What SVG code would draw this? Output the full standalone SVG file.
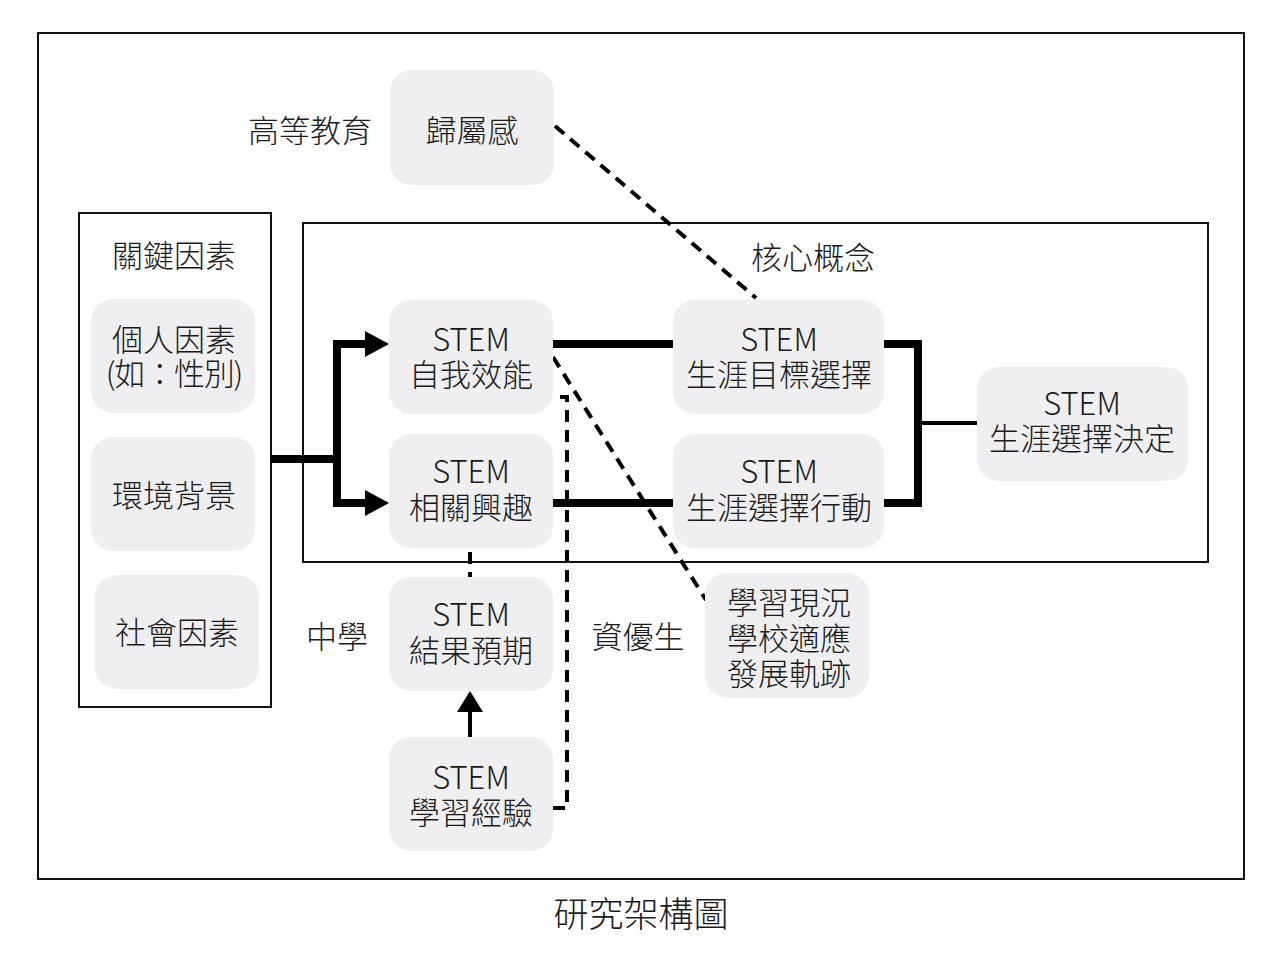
<svg xmlns="http://www.w3.org/2000/svg" width="1282" height="958" viewBox="0 0 1282 958">
<defs>
<style>
.frame{fill:none;stroke:#111;stroke-width:2}
.node{fill:#efeff1;stroke:none}
.t{font-family:"Noto Sans CJK TC","Noto Sans",sans-serif;font-size:31px;font-weight:300;fill:#1a1a1a;text-anchor:middle;dominant-baseline:central}
.thick{fill:none;stroke:#000;stroke-width:8}
.mid{fill:none;stroke:#000;stroke-width:4}
.dash{fill:none;stroke:#000;stroke-width:4;stroke-dasharray:12 8}
</style>
</defs>
<rect width="1282" height="958" fill="#fff"/>
<rect class="frame" x="38" y="33" width="1206" height="846"/>
<rect class="frame" x="79" y="213" width="192" height="494"/>
<rect class="frame" x="303" y="223" width="905" height="339"/>

<g id="labels">
<text class="t" x="310" y="128">高等教育</text>
<text class="t" x="174" y="253">關鍵因素</text>
<text class="t" x="813" y="255">核心概念</text>
<text class="t" x="337" y="634">中學</text>
<text class="t" x="638" y="634">資優生</text>
<text class="t" x="641" y="911" style="font-size:35px">研究架構圖</text>
</g>

<g id="connectors">
<path class="thick" d="M271,459 H337 M337,459 V344 H366 M337,459 V503 H366"/>
<path d="M365,331 L389,344 L365,357 Z" fill="#000"/>
<path d="M365,490 L389,503 L365,516 Z" fill="#000"/>
<path class="thick" d="M553,344 H673"/>
<path class="thick" d="M553,503 H673"/>
<path class="thick" d="M884,344 H918 V503 H884"/>
<path class="mid" d="M918,423 H977"/>
<path class="dash" d="M555,126 L756,298"/>
<path class="dash" d="M553,357 L706,600"/>
<path class="dash" d="M553,808 H567 V397 H559"/>
<path class="dash" d="M470,552 V577"/>
<path class="mid" d="M470,737 V710"/>
<path d="M457,712 L470,691 L483,712 Z" fill="#000"/>
</g>

<g id="n-belong"><rect class="node" x="390" y="70" width="164" height="115" rx="22"/><text class="t" x="472" y="128">歸屬感</text></g>
<g id="n-personal"><rect class="node" x="91" y="299" width="164" height="114" rx="22"/><text class="t" x="174" y="337">個人因素</text><text class="t" x="174" y="371" style="letter-spacing:-1.2px">(如：性別)</text></g>
<g id="n-env"><rect class="node" x="91" y="437" width="164" height="114" rx="22"/><text class="t" x="174" y="493">環境背景</text></g>
<g id="n-social"><rect class="node" x="95" y="575" width="164" height="114" rx="22"/><text class="t" x="177" y="630">社會因素</text></g>
<g id="n-self"><rect class="node" x="389" y="300" width="164" height="114" rx="22"/><text class="t" x="471" y="337">STEM</text><text class="t" x="471" y="372">自我效能</text></g>
<g id="n-interest"><rect class="node" x="389" y="434" width="164" height="114" rx="22"/><text class="t" x="471" y="469">STEM</text><text class="t" x="471" y="505">相關興趣</text></g>
<g id="n-goal"><rect class="node" x="673" y="300" width="211" height="114" rx="22"/><text class="t" x="779" y="337">STEM</text><text class="t" x="779" y="372">生涯目標選擇</text></g>
<g id="n-action"><rect class="node" x="673" y="434" width="211" height="114" rx="22"/><text class="t" x="779" y="469">STEM</text><text class="t" x="779" y="505">生涯選擇行動</text></g>
<g id="n-decision"><rect class="node" x="977" y="367" width="211" height="114" rx="22"/><text class="t" x="1082" y="401">STEM</text><text class="t" x="1082" y="436">生涯選擇決定</text></g>
<g id="n-outcome"><rect class="node" x="389" y="577" width="164" height="114" rx="22"/><text class="t" x="471" y="612">STEM</text><text class="t" x="471" y="648">結果預期</text></g>
<g id="n-status"><rect class="node" x="705" y="573" width="164" height="125" rx="22"/><text class="t" x="789" y="600">學習現況</text><text class="t" x="789" y="636">學校適應</text><text class="t" x="789" y="671">發展軌跡</text></g>
<g id="n-experience"><rect class="node" x="389" y="737" width="164" height="114" rx="22"/><text class="t" x="471" y="775">STEM</text><text class="t" x="471" y="810">學習經驗</text></g>
</svg>
